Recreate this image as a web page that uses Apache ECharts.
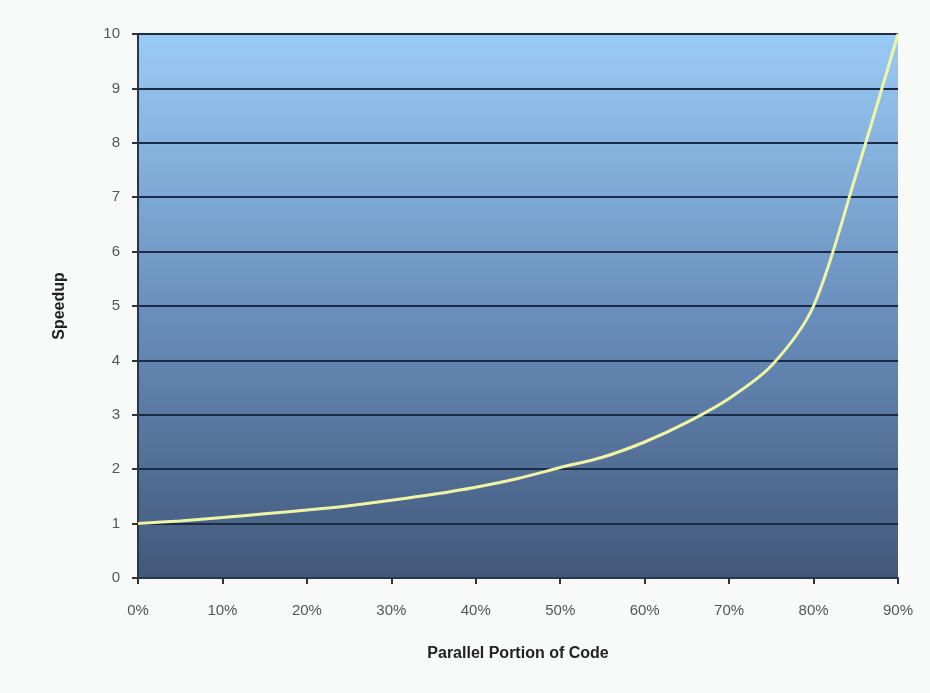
<!DOCTYPE html>
<html>
<head>
<meta charset="utf-8">
<script src="https://cdn.jsdelivr.net/npm/echarts@6/dist/echarts.min.js"></script>
<style>
  html, body { margin: 0; padding: 0; background: #f8f9f9; }
  #chart { width: 930px; height: 693px; }
</style>
</head>
<body>
<div id="chart"></div>
<script>
  // parallel portion (%) and speedup
  var portion = [0, 5, 10, 15, 20, 25, 30, 35, 40, 45, 50, 55, 60, 65, 70, 75, 80, 85, 90]
  var speedup = [1.0, 1.05, 1.11, 1.18, 1.25, 1.33, 1.43, 1.54, 1.67, 1.83, 2.03, 2.22, 2.5, 2.86, 3.3, 3.9, 5.0, 7.4, 10.0]
  var yTicks = [0, 1, 2, 3, 4, 5, 6, 7, 8, 9, 10]

  var points = portion.map(function (p, i) { return [p, speedup[i]] })

  var myChart = echarts.init(document.getElementById('chart'))
  myChart.setOption({
    backgroundColor: '#f8f9f9',
    animation: false,
    grid: {
      left: 138,
      right: 32,
      top: 34,
      bottom: 115,
      show: true,
      borderWidth: 0,
      backgroundColor: {
        type: 'linear', x: 0, y: 0, x2: 0, y2: 1,
        colorStops: [
          {offset: 0, color: '#9acbf6'},
          {offset: 0.5, color: '#6a90be'},
          {offset: 1, color: '#42587a'}
        ]
      }
    },
    xAxis: {
      type: 'value',
      min: 0,
      max: 90,
      interval: 10,
      name: 'Parallel Portion of Code',
      nameLocation: 'middle',
      nameGap: 68,
      nameTextStyle: {
        fontFamily: 'Liberation Sans',
        fontWeight: 'bold',
        fontSize: 16,
        color: '#222'
      },
      axisLine: {lineStyle: {color: '#243650', width: 2}},
      axisTick: {show: true, length: 6, lineStyle: {color: '#333', width: 2}},
      axisLabel: {
        formatter: '{value}%',
        margin: 25,
        fontFamily: 'Liberation Sans',
        fontSize: 15,
        color: '#555'
      },
      splitLine: {show: false}
    },
    yAxis: {
      type: 'value',
      min: yTicks[0],
      max: yTicks[yTicks.length - 1],
      interval: 1,
      name: 'Speedup',
      nameLocation: 'middle',
      nameGap: 70,
      nameTextStyle: {
        fontFamily: 'Liberation Sans',
        fontWeight: 'bold',
        fontSize: 16,
        color: '#222'
      },
      axisLine: {show: true, lineStyle: {color: '#243650', width: 2}},
      axisTick: {show: true, length: 6, lineStyle: {color: '#333', width: 2}},
      axisLabel: {
        margin: 18,
        fontFamily: 'Liberation Sans',
        fontSize: 15,
        color: '#555'
      },
      splitLine: {lineStyle: {color: '#1b2b45', width: 2}}
    },
    series: [
      {
        type: 'line',
        data: points,
        smooth: 0.3,
        showSymbol: false,
        lineStyle: {color: '#eef6a6', width: 3},
        itemStyle: {color: '#eef6a6'}
      }
    ]
  })
</script>
</body>
</html>
